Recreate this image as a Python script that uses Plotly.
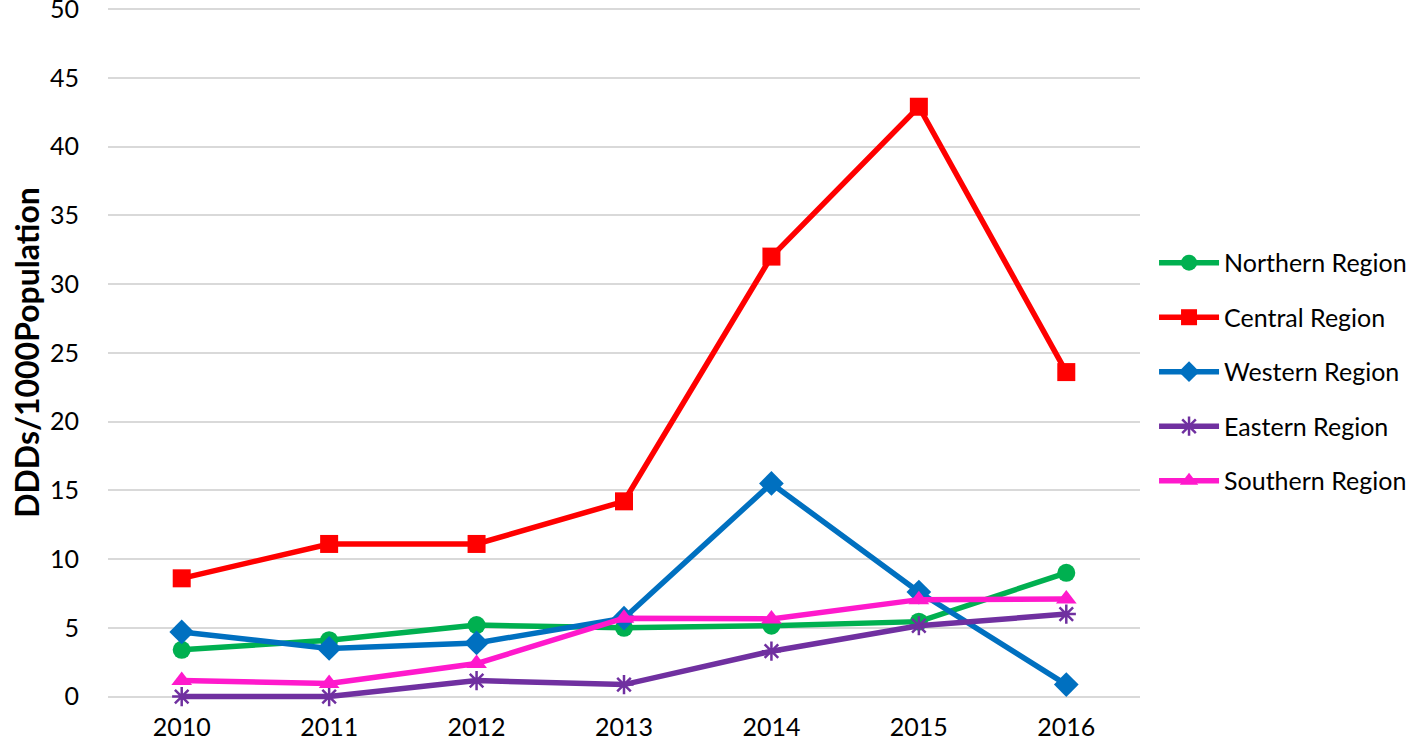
import plotly.graph_objects as go

years = ["2010", "2011", "2012", "2013", "2014", "2015", "2016"]
northern = [3.4, 4.1, 5.2, 5.0, 5.15, 5.45, 9.0]
central = [8.6, 11.1, 11.1, 14.2, 32.0, 42.9, 23.6]
western = [4.7, 3.5, 3.9, 5.7, 15.5, 7.6, 0.87]
eastern = [0.0, 0.0, 1.16, 0.87, 3.3, 5.15, 6.0]
southern = [1.16, 0.95, 2.4, 5.7, 5.65, 7.05, 7.1]
y_ticks = [0, 5, 10, 15, 20, 25, 30, 35, 40, 45, 50]

series = [
    ("Northern Region", northern, "#00B050", dict(symbol="circle", size=18)),
    ("Central Region", central, "#FF0000", dict(symbol="square", size=18)),
    ("Western Region", western, "#0070C0", dict(symbol="diamond", size=19)),
    ("Eastern Region", eastern, "#7030A0", dict(symbol="asterisk-open", size=16)),
    ("Southern Region", southern, "#FF19CC", dict(symbol="triangle-up", size=18)),
]

fig = go.Figure()
for i, (name, vals, color, mk) in enumerate(series):
    marker = dict(color=color, **mk)
    if mk["symbol"] == "asterisk-open":
        marker["line"] = dict(color=color, width=2.5)
    fig.add_trace(go.Scatter(
        x=years, y=vals, name=name, mode="lines+markers",
        line=dict(color=color, width=5.5), marker=marker,
        legendgroup=str(i), cliponaxis=False,
    ))

fig.update_layout(
    width=1418, height=743,
    paper_bgcolor="white", plot_bgcolor="white",
    margin=dict(l=108, r=278, t=5, b=43, autoexpand=False),
    font=dict(family="Lato, Open Sans, sans-serif", color="black", size=25),
    showlegend=True,
    legend=dict(
        x=1.0136, y=0.472, xanchor="left", yanchor="middle",
        font=dict(size=25), tracegroupgap=19, itemwidth=60,
        traceorder="grouped",
    ),
    xaxis=dict(
        type="category", range=[-0.5, 6.5], showgrid=False,
        showline=False, ticks="", tickfont=dict(size=25),
        ticklabelstandoff=10, automargin=False, ticklabeloverflow="allow",
    ),
    yaxis=dict(
        range=[-0.25, 50.3], tickvals=y_ticks,
        showgrid=True, gridcolor="#D9D9D9",
        gridwidth=2, zeroline=False, showline=False, ticks="",
        tickfont=dict(size=25), ticklabelstandoff=28,
        ticklabeloverflow="allow", automargin=False,
        title=dict(text="<b>DDDs/1000Population</b>", font=dict(size=32), standoff=0),
    ),
)

fig.write_html(
    "out.html",
    config={"displayModeBar": False},
    post_script="document.body.style.margin='0';",
)
